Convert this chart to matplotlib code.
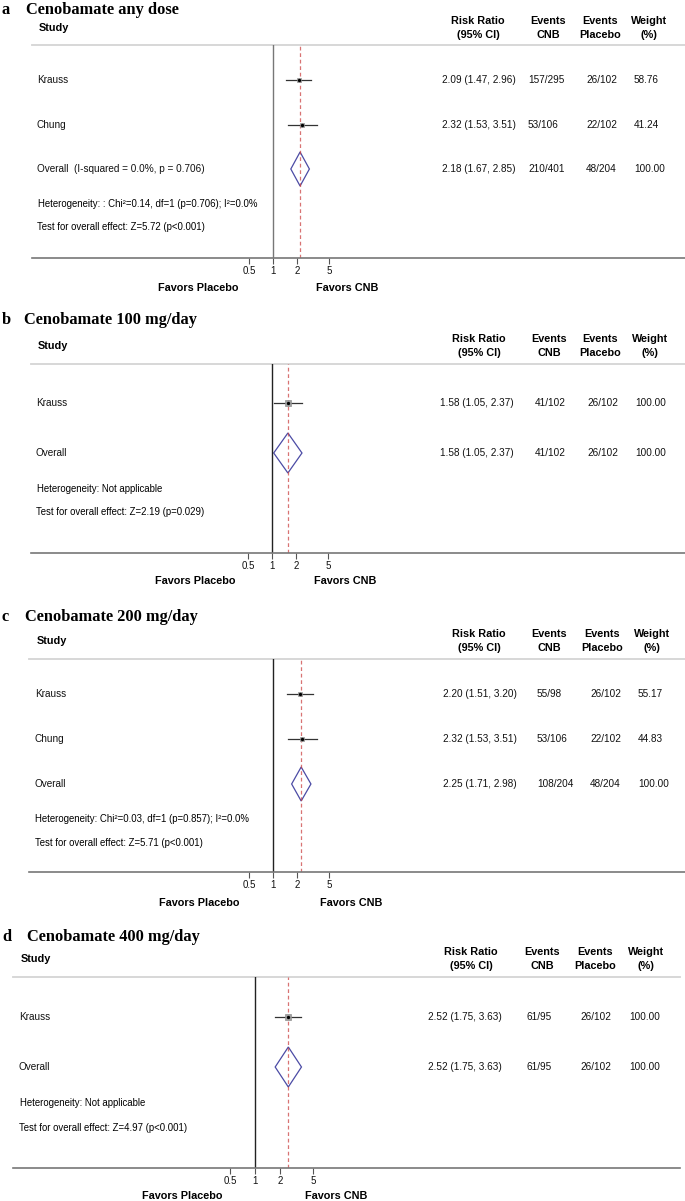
import matplotlib.pyplot as plt
from matplotlib.patches import Polygon

W, H = 685, 1201

# ---------------- data ----------------
ticks = [0.5, 1, 2, 5]
tick_labels = ["0.5", "1", "2", "5"]

a_study = ["Krauss", "Chung"]
a_rr = [2.09, 2.32]
a_lo = [1.47, 1.53]
a_hi = [2.96, 3.51]
a_cnb = ["157/295", "53/106"]
a_pla = ["26/102", "22/102"]
a_wt = [58.76, 41.24]
a_overall = [2.18, 1.67, 2.85]
a_overall_ev = ["210/401", "48/204"]

b_study = ["Krauss"]
b_rr = [1.58]
b_lo = [1.05]
b_hi = [2.37]
b_cnb = ["41/102"]
b_pla = ["26/102"]
b_wt = [100.00]
b_overall = [1.58, 1.05, 2.37]
b_overall_ev = ["41/102", "26/102"]

c_study = ["Krauss", "Chung"]
c_rr = [2.20, 2.32]
c_lo = [1.51, 1.53]
c_hi = [3.20, 3.51]
c_cnb = ["55/98", "53/106"]
c_pla = ["26/102", "22/102"]
c_wt = [55.17, 44.83]
c_overall = [2.25, 1.71, 2.98]
c_overall_ev = ["108/204", "48/204"]

d_study = ["Krauss"]
d_rr = [2.52]
d_lo = [1.75]
d_hi = [3.63]
d_cnb = ["61/95"]
d_pla = ["26/102"]
d_wt = [100.00]
d_overall = [2.52, 1.75, 3.63]
d_overall_ev = ["61/95", "26/102"]

panels = [
    dict(letter="a", title="Cenobamate any dose",
         study=a_study, rr=a_rr, lo=a_lo, hi=a_hi, cnb=a_cnb, pla=a_pla, wt=a_wt,
         ov=a_overall, ov_ev=a_overall_ev,
         ov_label="Overall  (I-squared = 0.0%, p = 0.706)",
         het="Heterogeneity: : Chi²=0.14, df=1 (p=0.706); I²=0.0%",
         test="Test for overall effect: Z=5.72 (p<0.001)",
         lay=dict(title_y=10, title_x=26, head_y=28, sep=45, rows=[80, 125, 169], het_y=204,
                  test_y=227, axis_y=258, fav_y=288, left=32, right=685, x1=273, ppd=80,
                  tx=37, het_x=38, rr_l=442, cnb_l=528, pla_r=617, wt_l=634,
                  h_rr=478, h_cnb=548, h_pla=600, h_wt=649, fav=(198, 347),
                  diam=17, vcol="#777777", font="Liberation Sans")),
    dict(letter="b", title="Cenobamate 100 mg/day",
         study=b_study, rr=b_rr, lo=b_lo, hi=b_hi, cnb=b_cnb, pla=b_pla, wt=b_wt,
         ov=b_overall, ov_ev=b_overall_ev, ov_label="Overall",
         het="Heterogeneity: Not applicable",
         test="Test for overall effect: Z=2.19 (p=0.029)",
         lay=dict(title_y=320, title_x=24, head_y=346, sep=364, rows=[403, 453], het_y=489,
                  test_y=512, axis_y=553, fav_y=581, left=31, right=685, x1=272, ppd=80,
                  tx=36, het_x=37, rr_l=440, cnb_l=535, pla_r=618, wt_l=635,
                  h_rr=479, h_cnb=549, h_pla=600, h_wt=650, fav=(195, 345),
                  diam=20, vcol="#222222", font="Liberation Sans")),
    dict(letter="c", title="Cenobamate 200 mg/day",
         study=c_study, rr=c_rr, lo=c_lo, hi=c_hi, cnb=c_cnb, pla=c_pla, wt=c_wt,
         ov=c_overall, ov_ev=c_overall_ev, ov_label="Overall",
         het="Heterogeneity: Chi²=0.03, df=1 (p=0.857); I²=0.0%",
         test="Test for overall effect: Z=5.71 (p<0.001)",
         lay=dict(title_y=617, title_x=25, head_y=641, sep=659, rows=[694, 739, 784], het_y=819,
                  test_y=843, axis_y=872, fav_y=903, left=29, right=685, x1=273, ppd=80,
                  tx=35, het_x=35, rr_l=443, cnb_l=537, pla_r=621, wt_l=638,
                  h_rr=479, h_cnb=549, h_pla=602, h_wt=652, fav=(199, 351),
                  diam=17, vcol="#222222", font="Liberation Sans")),
    dict(letter="d", title="Cenobamate 400 mg/day",
         study=d_study, rr=d_rr, lo=d_lo, hi=d_hi, cnb=d_cnb, pla=d_pla, wt=d_wt,
         ov=d_overall, ov_ev=d_overall_ev, ov_label="Overall",
         het="Heterogeneity: Not applicable",
         test="Test for overall effect: Z=4.97 (p<0.001)",
         lay=dict(title_y=937, title_x=27, head_y=959, sep=977, rows=[1017, 1067], het_y=1103,
                  test_y=1128, axis_y=1168, fav_y=1196, left=13, right=680, x1=255, ppd=83,
                  tx=19, het_x=20, rr_l=428, cnb_l=527, pla_r=611, wt_l=629,
                  h_rr=471, h_cnb=542, h_pla=595, h_wt=646, fav=(182, 336),
                  diam=20, vcol="#222222", font="Liberation Sans Narrow")),
]

fig = plt.figure(figsize=(W / 100, H / 100), dpi=100)
fig.patch.set_facecolor("white")

# overlay axes in pixel units for all the text
tax = fig.add_axes([0, 0, 1, 1])
tax.set_xlim(0, W)
tax.set_ylim(H, 0)
tax.set_axis_off()

for p in panels:
    L = p["lay"]
    fam = [L["font"], "Liberation Sans", "DejaVu Sans"]
    # title
    tax.text(2, L["title_y"], p["letter"], family="Liberation Serif", weight="bold",
             fontsize=11.8, va="center", ha="left")
    tax.text(L["title_x"], L["title_y"], p["title"], family="Liberation Serif",
             weight="bold", fontsize=11.8, va="center", ha="left")
    # header
    tax.text(L["tx"] + 2, L["head_y"], "Study", family=fam, weight="bold",
             fontsize=7.8, va="center", ha="left")
    for hx, lab in [(L["h_rr"], "Risk Ratio\n(95% CI)"), (L["h_cnb"], "Events\nCNB"),
                    (L["h_pla"], "Events\nPlacebo"), (L["h_wt"], "Weight\n(%)")]:
        tax.text(hx, L["head_y"], lab, family=fam, weight="bold", fontsize=7.8,
                 va="center", ha="center", multialignment="center", linespacing=1.5)
    tax.plot([L["left"], L["right"]], [L["sep"], L["sep"]], color="#d4d4d4", lw=1.3)

    # table rows
    names = p["study"] + [p["ov_label"]]
    rrs = p["rr"] + [p["ov"][0]]
    los = p["lo"] + [p["ov"][1]]
    his = p["hi"] + [p["ov"][2]]
    cnbs = p["cnb"] + [p["ov_ev"][0]]
    plas = p["pla"] + [p["ov_ev"][1]]
    wts = p["wt"] + [100.00]
    for y, nm, r, lo, hi, cn, pl, wt in zip(L["rows"], names, rrs, los, his, cnbs, plas, wts):
        kw = dict(family=fam, fontsize=7.2, va="center", color="#111111")
        tax.text(L["tx"], y, nm, ha="left", **kw)
        tax.text(L["rr_l"], y, f"{r:.2f} ({lo:.2f}, {hi:.2f})", ha="left", **kw)
        tax.text(L["cnb_l"], y, cn, ha="left", **kw)
        tax.text(L["pla_r"], y, pl, ha="right", **kw)
        tax.text(L["wt_l"], y, f"{wt:.2f}", ha="left", **kw)
    tax.text(L["het_x"], L["het_y"], p["het"], family=fam, fontsize=6.9, va="center", ha="left")
    tax.text(L["tx"], L["test_y"], p["test"], family=fam, fontsize=6.9, va="center", ha="left")
    tax.text(L["fav"][0], L["fav_y"], "Favors Placebo", family=fam, weight="bold",
             fontsize=7.8, va="center", ha="center")
    tax.text(L["fav"][1], L["fav_y"], "Favors CNB", family=fam, weight="bold",
             fontsize=7.8, va="center", ha="center")

    # forest axes (log scale)
    ax = fig.add_axes([L["left"] / W, 1 - L["axis_y"] / H,
                       (L["right"] - L["left"]) / W, (L["axis_y"] - L["sep"]) / H])
    ax.set_xscale("log")
    ax.set_xlim(10 ** ((L["left"] - L["x1"]) / L["ppd"]), 10 ** ((L["right"] - L["x1"]) / L["ppd"]))
    ax.set_ylim(L["axis_y"], L["sep"])
    ax.patch.set_alpha(0)
    for s in ["left", "right", "top"]:
        ax.spines[s].set_visible(False)
    ax.spines["bottom"].set_color("#777777")
    ax.spines["bottom"].set_linewidth(1.2)
    ax.set_yticks([])
    ax.minorticks_off()
    ax.set_xticks(ticks)
    ax.set_xticklabels(tick_labels, family=fam)
    ax.tick_params(axis="x", direction="out", length=4, width=0.8, color="#555555",
                   labelsize=7, pad=2, labelcolor="#111111")

    ax.axvline(1, color=L["vcol"], lw=1.0)
    ax.axvline(p["ov"][0], color="#cc4444", lw=0.9, alpha=0.75, linestyle=(0, (3, 2.2)))

    for y, r, lo, hi, wt in zip(L["rows"], p["rr"], p["lo"], p["hi"], p["wt"]):
        ax.plot([lo, hi], [y, y], color="#333333", lw=0.9)
        ax.plot(r, y, marker="s", ms=4.2 * (wt / 100) ** 0.5, color="#a0a0a0", mec="#909090", mew=0.5)
        ax.plot(r, y, marker="o", ms=2.4, color="black", mew=0)

    oy = L["rows"][-1]
    est, lo, hi = p["ov"]
    dh = L["diam"]
    ax.add_patch(Polygon([(lo, oy), (est, oy - dh), (hi, oy), (est, oy + dh)],
                         closed=True, fill=False, edgecolor="#4b4ba5", lw=0.9))

fig.savefig("out.png", dpi=100)
